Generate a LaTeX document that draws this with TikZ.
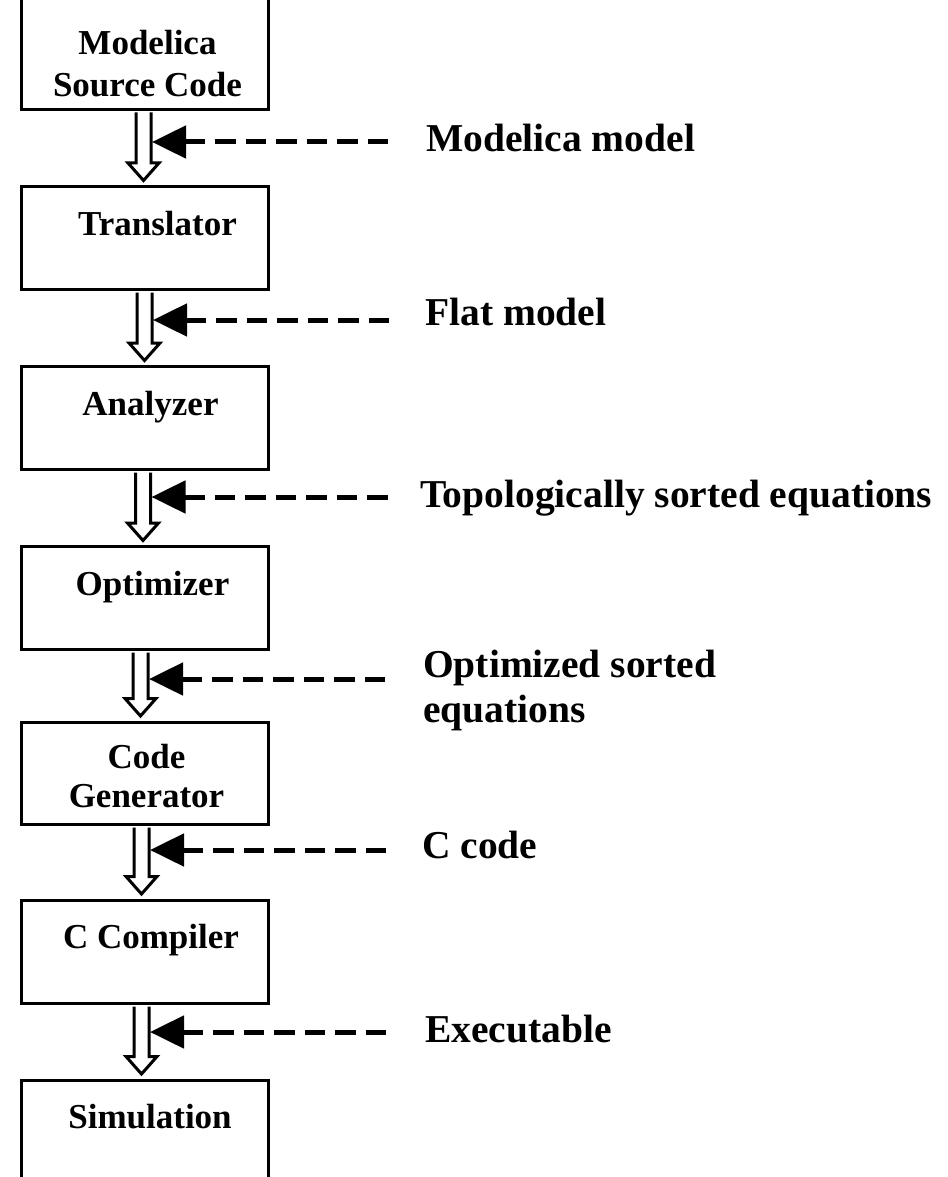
\documentclass[tikz,border=0pt]{standalone}
\usepackage{fontspec}
\setmainfont{Liberation Serif}
\usetikzlibrary{arrows.meta,calc}
\newcommand{\hollowarrow}[3]{%
  \draw[hollow] let \p1=(#1.south), \p2=(#2.north) in
    (#3pt-7.5pt,\y1-1.5pt) -- (#3pt-7.5pt,\y2+22pt) -- (#3pt-15.5pt,\y2+22pt)
    -- (#3pt,\y2+4.5pt) -- (#3pt+15.5pt,\y2+22pt) -- (#3pt+7.5pt,\y2+22pt)
    -- (#3pt+7.5pt,\y1-1.5pt);
}
\begin{document}
\begin{tikzpicture}[x=1pt,y=-1pt,
  box/.style={draw, line width=3pt, minimum width=246.5pt, inner sep=0pt, anchor=north west},
  boxtext/.style={inner sep=0pt, anchor=base, font=\fontsize{35}{42}\selectfont\bfseries},
  lab/.style={inner sep=0pt, anchor=base west, font=\fontsize{39.5}{45}\selectfont\bfseries},
  hollow/.style={draw, fill=white, line width=3pt, line join=miter},
  dasharrow/.style={line width=5pt, dash pattern=on 20.5pt off 10pt,
    {Triangle[length=34pt,width=32pt]}-}
]
\useasboundingbox (0,0) rectangle (947,1177);
\clip (0,0) rectangle (947,1177);
% boxes
\node[box, minimum height=168pt] (b1) at (20,-60) {};
\node[box, minimum height=103pt] (b2) at (20,185) {};
\node[box, minimum height=103pt] (b3) at (20,365) {};
\node[box, minimum height=103pt] (b4) at (20,545) {};
\node[box, minimum height=102.5pt] (b5) at (20,720.5) {};
\node[box, minimum height=103.5pt] (b6) at (20,898.5) {};
\node[box, minimum height=250pt] (b7) at (20,1078.5) {};
% box texts
\node[boxtext] (t1a) at (147.5,55) {Modelica};
\node[boxtext] (t1b) at (147.5,97) {Source Code};
\node[boxtext] (t2) at (157.5,235) {Translator};
\node[boxtext] (t3) at (150.5,415) {Analyzer};
\node[boxtext] (t4) at (152.5,595) {Optimizer};
\node[boxtext] (t5a) at (146.5,768) {Code};
\node[boxtext] (t5b) at (146.5,807) {Generator};
\node[boxtext] (t6) at (151,948) {C Compiler};
\node[boxtext] (t7) at (150,1128) {Simulation};
% hollow arrows
\hollowarrow{b1}{b2}{143.5}
\hollowarrow{b2}{b3}{144.5}
\hollowarrow{b3}{b4}{143}
\hollowarrow{b4}{b5}{140.5}
\hollowarrow{b5}{b6}{141.5}
\hollowarrow{b6}{b7}{141.5}
% dashed arrows
\coordinate (p1) at (152,142);   \coordinate (e1) at (389.5,142);
\coordinate (p2) at (153,320);   \coordinate (e2) at (390.5,320);
\coordinate (p3) at (151.5,497); \coordinate (e3) at (389,497);
\coordinate (p4) at (149,679);   \coordinate (e4) at (386.5,679);
\coordinate (p5) at (150,850);   \coordinate (e5) at (387.5,850);
\coordinate (p6) at (150,1032);  \coordinate (e6) at (387.5,1032);
\draw[dasharrow] (p1) -- (e1);
\draw[dasharrow] (p2) -- (e2);
\draw[dasharrow] (p3) -- (e3);
\draw[dasharrow] (p4) -- (e4);
\draw[dasharrow] (p5) -- (e5);
\draw[dasharrow] (p6) -- (e6);
% labels
\node[lab] (l1) at (426,152) {Modelica model};
\node[lab] (l2) at (425,325) {Flat model};
\node[lab] (l3) at (420,507) {Topologically sorted equations};
\node[lab] (l4a) at (423,677) {Optimized sorted};
\node[lab] (l4b) at (423,722) {equations};
\node[lab] (l5) at (422,858) {C code};
\node[lab] (l6) at (425,1042) {Executable};
\end{tikzpicture}
\end{document}
